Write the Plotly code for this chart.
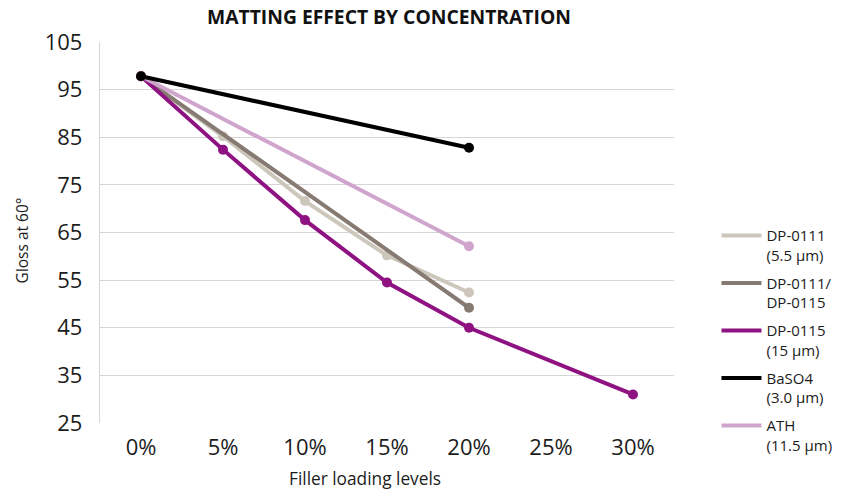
import plotly.graph_objects as go

categories = ["0%", "5%", "10%", "15%", "20%", "25%", "30%"]

dp0111_x = ["0%", "5%", "10%", "15%", "20%"]
dp0111_y = [97.8, 85.2, 71.6, 60.2, 52.4]

blend_x = ["0%", "20%"]
blend_y = [97.8, 49.2]

dp0115_x = ["0%", "5%", "10%", "15%", "20%", "30%"]
dp0115_y = [97.8, 82.4, 67.6, 54.5, 45.0, 31.0]

baso4_x = ["0%", "20%"]
baso4_y = [97.8, 82.8]

ath_x = ["0%", "20%"]
ath_y = [97.8, 62.1]

y_ticks = [25, 35, 45, 55, 65, 75, 85, 95, 105]

series = [
    ("DP-0111<br>(5.5 µm)", dp0111_x, dp0111_y, "#CDC7BB"),
    ("DP-0111/<br>DP-0115", blend_x, blend_y, "#867A72"),
    ("DP-0115<br>(15 µm)", dp0115_x, dp0115_y, "#8F1282"),
    ("BaSO4<br>(3.0 µm)", baso4_x, baso4_y, "#000000"),
    ("ATH<br>(11.5 µm)", ath_x, ath_y, "#D0A5CD"),
]
draw_order = [0, 1, 2, 4, 3]

FONT = "Open Sans"
TXT = "#1c1c1c"

fig = go.Figure()
for i in draw_order:
    name, xs, ys, col = series[i]
    fig.add_trace(go.Scatter(
        x=xs, y=ys, mode="lines", name=name,
        line=dict(color=col, width=4),
        legendgroup=f"g{i}", legendrank=i + 1, showlegend=True,
        hoverinfo="skip",
    ))
    fig.add_trace(go.Scatter(
        x=xs, y=ys, mode="markers", name=name,
        marker=dict(color=col, size=10),
        legendgroup=f"g{i}", showlegend=False,
    ))

fig.update_layout(
    width=850, height=494,
    margin=dict(l=100, r=168, t=42, b=71),
    paper_bgcolor="white", plot_bgcolor="white",
    font=dict(family=FONT, color=TXT),
    title=dict(
        text="<b>MATTING EFFECT BY CONCENTRATION</b>",
        x=389 / 850, xanchor="center", y=1 - 17 / 494, yanchor="middle",
        font=dict(family=FONT, size=19.3, color="#111111"),
    ),
    xaxis=dict(
        type="category", categoryorder="array", categoryarray=categories,
        tickvals=categories, ticktext=categories,
        range=[-0.5, 6.5], showgrid=False, zeroline=False,
        showline=False, ticks="", ticklabelstandoff=9,
        tickfont=dict(family=FONT, size=22, color=TXT),
    ),
    yaxis=dict(
        range=[25, 105], tickvals=y_ticks, showgrid=True,
        gridcolor="#D6D6D6", gridwidth=1.3, zeroline=False,
        showline=True, linecolor="#D6D6D6", linewidth=1.3,
        ticks="", ticklabelstandoff=12,
        tickfont=dict(family=FONT, size=22, color=TXT),
    ),
    legend=dict(
        x=1.074, xanchor="left", y=0.535, yanchor="top",
        valign="top", tracegroupgap=5.5, itemwidth=40,
        font=dict(family=FONT, size=15, color=TXT),
        bgcolor="rgba(0,0,0,0)",
    ),
    showlegend=True,
)

fig.add_annotation(
    text="Filler loading levels", xref="paper", yref="paper",
    x=(369 - 100) / 582, y=(422.7 - 478) / 381, xanchor="center", yanchor="middle",
    showarrow=False, font=dict(family=FONT, size=17.3, color=TXT),
)
fig.add_annotation(
    text="Gloss at 60°", xref="paper", yref="paper",
    x=(21 - 100) / 582, y=(422.7 - 240) / 381, xanchor="center", yanchor="middle",
    textangle=-90, showarrow=False, font=dict(family=FONT, size=15.5, color=TXT),
)

fig.write_html("out.html", config={"displayModeBar": False},
               post_script="document.body.style.margin='0';")
